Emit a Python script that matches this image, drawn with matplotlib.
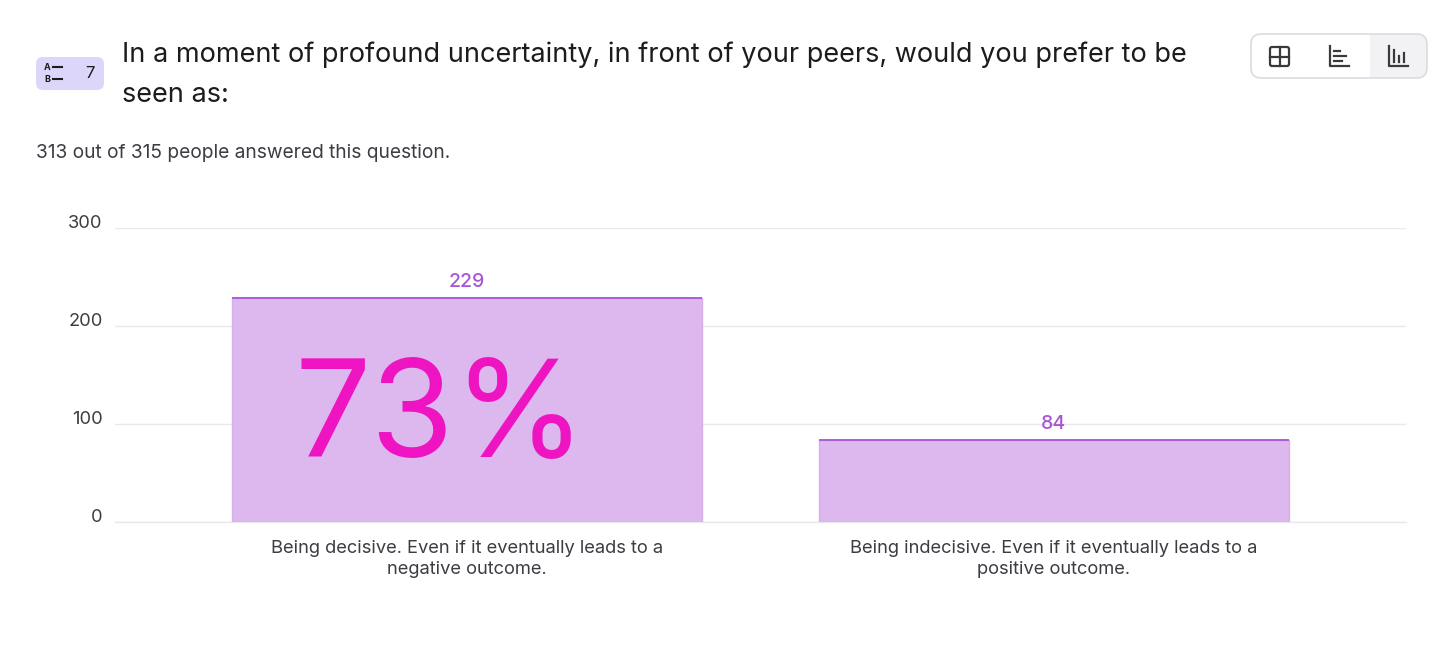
import matplotlib.pyplot as plt
from matplotlib.patches import FancyBboxPatch, Rectangle
from matplotlib.transforms import ScaledTranslation

plt.rcParams['font.family'] = ['Inter', 'DejaVu Sans']

# data
categories = ["Being decisive. Even if it eventually leads to a\nnegative outcome.",
              "Being indecisive. Even if it eventually leads to a\npositive outcome."]
counts = [229, 84]
answered = 313
total = 315
question_no = 7
title = "In a moment of profound uncertainty, in front of your peers, would you prefer to be\nseen as:"
yticks = [0, 100, 200, 300]

W, H = 1456, 662
fig = plt.figure(figsize=(W / 100, H / 100), dpi=100)

# main bar axes
ax = fig.add_axes([115 / W, 1 - 522 / H, (1406 - 115) / W, (522 - 228) / H])
x = range(len(counts))
ax.bar(x, counts, width=0.8, color='#ddb8ee', edgecolor='#d7aeec', linewidth=1, zorder=2)
ax.hlines(counts, [i - 0.4 for i in x], [i + 0.4 for i in x], color='#a855d6', linewidth=1.3, zorder=3)
ax.set_xlim(-0.6, 1.6)
ax.set_ylim(0, 300)
ax.set_yticks(yticks)
ax.set_xticks(list(x))
ax.set_xticklabels(categories, fontsize=13.2, color='#3c3c43', linespacing=1.3)
ax.tick_params(axis='y', labelsize=13.2, colors='#3c3c43', length=0, pad=9)
ax.tick_params(axis='x', length=0, pad=13)
for lab in ax.get_yticklabels():
    lab.set_transform(lab.get_transform() + ScaledTranslation(0, 0.06, fig.dpi_scale_trans))
ax.grid(axis='y', color='#e8e8ed', linewidth=1, zorder=0)
ax.axhline(0, color='#e8e8ed', linewidth=1, zorder=1, clip_on=False)
for s in ax.spines.values():
    s.set_visible(False)

for i, v in zip(x, counts):
    ax.annotate(str(v), xy=(i, v), xytext=(0, 4.5), textcoords='offset points',
                ha='center', va='bottom', fontsize=14, color='#a855d6', fontweight='medium')

# big percentage inside the leading bar
pct = round(100 * counts[0] / answered)
ax.text(-0.046, 66, f"{pct}%", ha='center', va='baseline', fontsize=97,
        color='#ee14c2', zorder=4)

# overlay for header decorations (pixel coordinates)
ov = fig.add_axes([0, 0, 1, 1], facecolor='none')
ov.set_xlim(0, W)
ov.set_ylim(H, 0)
ov.axis('off')

# question badge
ov.add_patch(FancyBboxPatch((36, 57), 68, 33, boxstyle="round,pad=0,rounding_size=7",
                            facecolor='#ddd6fb', edgecolor='none'))
ov.text(44, 67, "A", fontsize=6.5, fontweight='bold', color='#1c1c1e', ha='left', va='center')
ov.text(44, 79, "B", fontsize=6.5, fontweight='bold', color='#1c1c1e', ha='left', va='center')
ov.plot([53, 62], [67, 67], color='#1c1c1e', lw=1.5)
ov.plot([53, 62], [79, 79], color='#1c1c1e', lw=1.5)
ov.text(90, 73, str(question_no), fontsize=12, color='#1c1c1e', ha='center', va='center')

# title and subtitle
ov.text(122, 75, title, fontsize=19.5, color='#1c1c1e', ha='left', va='center', linespacing=1.7)
ov.text(36, 153, f"{answered} out of {total} people answered this question.",
        fontsize=13.8, color='#3c3c43', ha='left', va='center')

# view switcher
ov.add_patch(FancyBboxPatch((1370, 34), 57, 44, boxstyle="round,pad=0,rounding_size=10",
                            facecolor='#f2f2f5', edgecolor='none'))
ov.add_patch(Rectangle((1370, 35), 20, 42, facecolor='#f2f2f5', edgecolor='none'))
ov.add_patch(FancyBboxPatch((1251, 34), 176, 44, boxstyle="round,pad=0,rounding_size=10",
                            facecolor='none', edgecolor='#dcdce0', lw=1.2))
ic = '#3a3a3c'
# grid icon
ov.add_patch(FancyBboxPatch((1270, 47), 19, 19, boxstyle="round,pad=0,rounding_size=2",
                            facecolor='none', edgecolor=ic, lw=1.6))
ov.plot([1279.5, 1279.5], [47, 66], color=ic, lw=1.6)
ov.plot([1270, 1289], [56.5, 56.5], color=ic, lw=1.6)
# horizontal bars icon
ov.plot([1330, 1330, 1349], [46, 66, 66], color=ic, lw=1.6)
ov.plot([1334, 1340], [51, 51], color=ic, lw=1.6)
ov.plot([1334, 1346], [56, 56], color=ic, lw=1.6)
ov.plot([1334, 1342], [61, 61], color=ic, lw=1.6)
# vertical bars icon
ov.plot([1389, 1389, 1408], [46, 66, 66], color=ic, lw=1.6)
ov.plot([1394, 1394], [62, 50], color=ic, lw=1.6)
ov.plot([1399, 1399], [62, 56], color=ic, lw=1.6)
ov.plot([1404, 1404], [62, 53], color=ic, lw=1.6)

fig.savefig('out.png', dpi=100)
